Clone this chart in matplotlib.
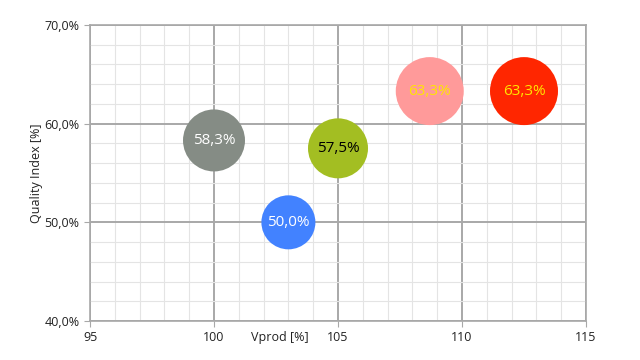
import matplotlib
matplotlib.use("Agg")
import matplotlib.pyplot as plt
from matplotlib.ticker import MultipleLocator, FuncFormatter

# bubble data
vprod = [100, 103, 105, 108.7, 112.5]
quality = [58.3, 50.0, 57.5, 63.3, 63.3]
bubble_size = [31, 27, 30, 34, 34]
labels = ["58,3%", "50,0%", "57,5%", "63,3%", "63,3%"]
colors = ["#858c85", "#4282ff", "#a3be22", "#ff9a9a", "#ff2600"]
text_colors = ["white", "white", "black", "#ffe600", "#ffe600"]

plt.rcParams['font.family'] = ['Open Sans', 'DejaVu Sans']

fig = plt.figure(figsize=(6.4, 3.6), dpi=100)
ax = fig.add_axes([90/640, 39/360, 496/640, 296/360])

# radius in px -> marker area in pt^2
s = [(2 * r * 72 / 100) ** 2 for r in bubble_size]
ax.scatter(vprod, quality, s=s, c=colors, zorder=3, linewidths=0)
for x, y, t, tc in zip(vprod, quality, labels, text_colors):
    ax.text(x, y, t, color=tc, fontsize=11, ha="center", va="center", zorder=4)

ax.set_xlim(95, 115)
ax.set_ylim(40, 70)
ax.xaxis.set_major_locator(MultipleLocator(5))
ax.xaxis.set_minor_locator(MultipleLocator(1))
ax.yaxis.set_major_locator(MultipleLocator(10))
ax.yaxis.set_minor_locator(MultipleLocator(2))
ax.yaxis.set_major_formatter(FuncFormatter(lambda v, p: f"{v:.1f}%".replace(".", ",")))

ax.grid(which="minor", color="#e4e4e4", linewidth=0.8, zorder=0)
ax.grid(which="major", color="#a8a8a8", linewidth=1.4, zorder=1)
ax.set_axisbelow(True)
for sp in ax.spines.values():
    sp.set_color("#a8a8a8")
    sp.set_linewidth(1.2)
ax.tick_params(which="major", length=4, color="#a8a8a8", labelsize=9, labelcolor="#222222")
ax.tick_params(which="minor", length=0)

ax.set_xlabel("Vprod [%]", fontsize=9, color="#222222")
ax.xaxis.set_label_coords(0.383, -0.055)
ax.xaxis.label.set_va("center")
ax.set_ylabel("Quality Index [%]", fontsize=9, color="#222222")
ax.yaxis.set_label_coords(-0.094, 0.5)

fig.savefig("out.png", dpi=100)
